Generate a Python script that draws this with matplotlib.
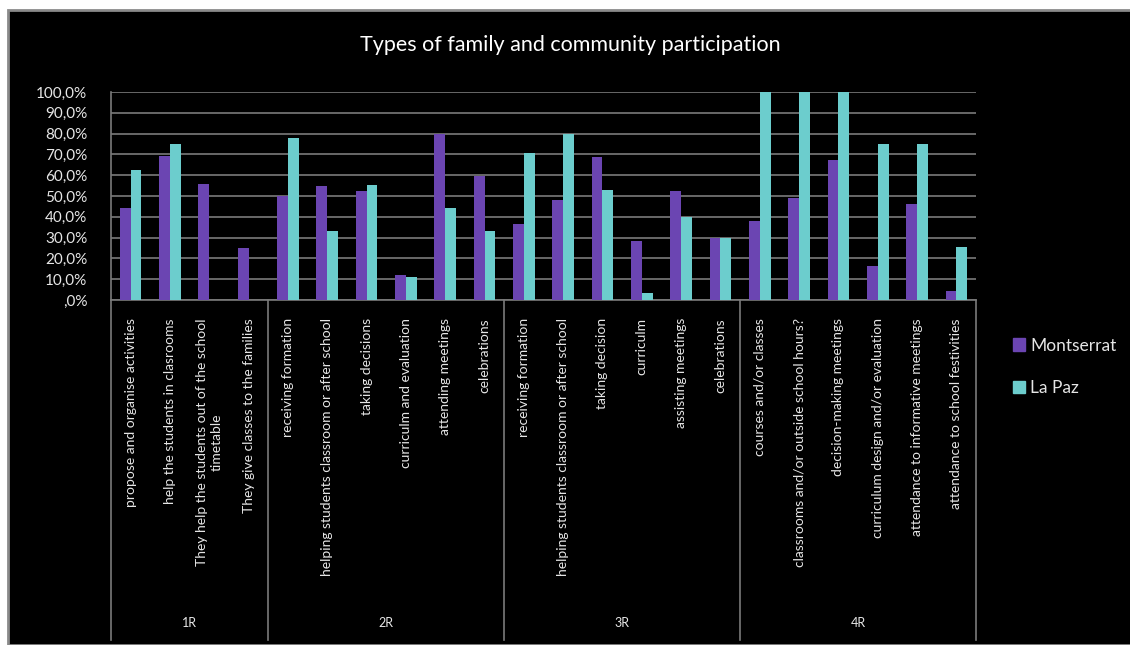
import matplotlib
matplotlib.use("Agg")
import matplotlib.pyplot as plt
from matplotlib.patches import Rectangle, Patch
from matplotlib.ticker import FuncFormatter

plt.rcParams['font.family'] = ['Lato', 'DejaVu Sans']

categories = [
    "propose and organise activities",
    "help the students in clasrooms",
    "They help the students out of the school\ntimetable",
    "They give classes to the families",
    "receiving formation",
    "helping students classroom or after school",
    "taking decisions",
    "curriculm and evaluation",
    "attending meetings",
    "celebrations",
    "receiving formation",
    "helping students classroom or after school",
    "taking decision",
    "curriculm",
    "assisting meetings",
    "celebrations",
    "courses and/or classes",
    "classrooms and/or outside school hours?",
    "decision-making meetings",
    "curriculum design and/or evaluation",
    "attendance to informative meetings",
    "attendance to school festivities",
]
groups = ["1R", "2R", "3R", "4R"]
group_sizes = [4, 6, 6, 6]

montserrat = [44.0, 69.4, 55.9, 25.2, 50.0, 54.8, 52.4, 12.2, 80.0, 59.8, 36.7,
              48.1, 68.8, 28.2, 52.4, 29.8, 38.0, 49.2, 67.1, 16.3, 46.3, 4.3]
la_paz = [62.7, 75.0, 0, 0, 78.0, 33.0, 55.4, 10.9, 44.4, 33.0, 70.5,
          80.0, 53.0, 3.2, 40.0, 29.8, 100.0, 100.0, 100.0, 75.0, 75.0, 25.3]

purple = "#6B45B2"
teal = "#6CCDCD"
grid_gray = "#7a7a7a"
text_col = "#e6e6e6"

fig = plt.figure(figsize=(11.3, 6.45), dpi=100)
fig.patch.set_facecolor("white")
frame = Rectangle((8 / 1130, 0), 1.0, 635 / 645, transform=fig.transFigure,
                  facecolor="black", edgecolor="#8a8a8a", linewidth=2, zorder=-10)
fig.patches.append(frame)

ax = fig.add_axes([111 / 1130, 345 / 645, 865 / 1130, 208 / 645])
ax.set_facecolor("black")

x = list(range(len(categories)))
w = 0.275
ax.bar([i - w / 2 for i in x], montserrat, width=w, color=purple, zorder=3)
ax.bar([i + w / 2 for i in x], la_paz, width=w, color=teal, zorder=3)

ax.set_xlim(-0.5, len(categories) - 0.5)
ax.set_ylim(0, 100)
ax.set_yticks(range(0, 101, 10))
ax.yaxis.set_major_formatter(FuncFormatter(
    lambda v, p: ",0%" if v == 0 else f"{v:.1f}%".replace(".", ",")))
ax.grid(axis="y", color=grid_gray, linewidth=1.2, zorder=0)
ax.tick_params(axis="y", length=0, pad=17, labelsize=11, labelcolor=text_col)

ax.set_xticks(x)
ax.set_xticklabels(categories, rotation=90, fontsize=10, color=text_col)
for lab in ax.get_xticklabels():
    lab.set_multialignment("center")
ax.tick_params(axis="x", length=0, pad=13)

for s in ["top", "right"]:
    ax.spines[s].set_visible(False)
ax.spines["left"].set_color(grid_gray)
ax.spines["bottom"].set_color(grid_gray)
ax.spines["left"].set_linewidth(1.2)
ax.spines["bottom"].set_linewidth(1.2)

# group separators and group labels below the axis
trans = ax.get_xaxis_transform()
edge = -0.5
bounds = [edge]
for n in group_sizes:
    edge += n
    bounds.append(edge)
for b in bounds:
    ax.plot([b, b], [0, -1.635], transform=trans, color=grid_gray, linewidth=1.2, clip_on=False)
for g, a, b in zip(groups, bounds[:-1], bounds[1:]):
    ax.text((a + b) / 2, -1.553, g, transform=trans, ha="center", va="center",
            fontsize=9, color=text_col)

fig.suptitle("Types of family and community participation", x=570 / 1130, y=1 - 45 / 645,
             va="center", fontsize=15.5, color="white")

handles = [Patch(color=purple, label="Montserrat"), Patch(color=teal, label="La Paz")]
leg = ax.legend(handles=handles, loc="upper left", bbox_to_anchor=(997 / 1130, 1 - 322 / 645),
                bbox_transform=fig.transFigure, frameon=False, fontsize=12.5,
                handlelength=0.7, handleheight=0.7, handletextpad=0.3, labelspacing=1.5)
for t in leg.get_texts():
    t.set_color(text_col)

fig.savefig("out.png", dpi=100, facecolor=fig.get_facecolor())
